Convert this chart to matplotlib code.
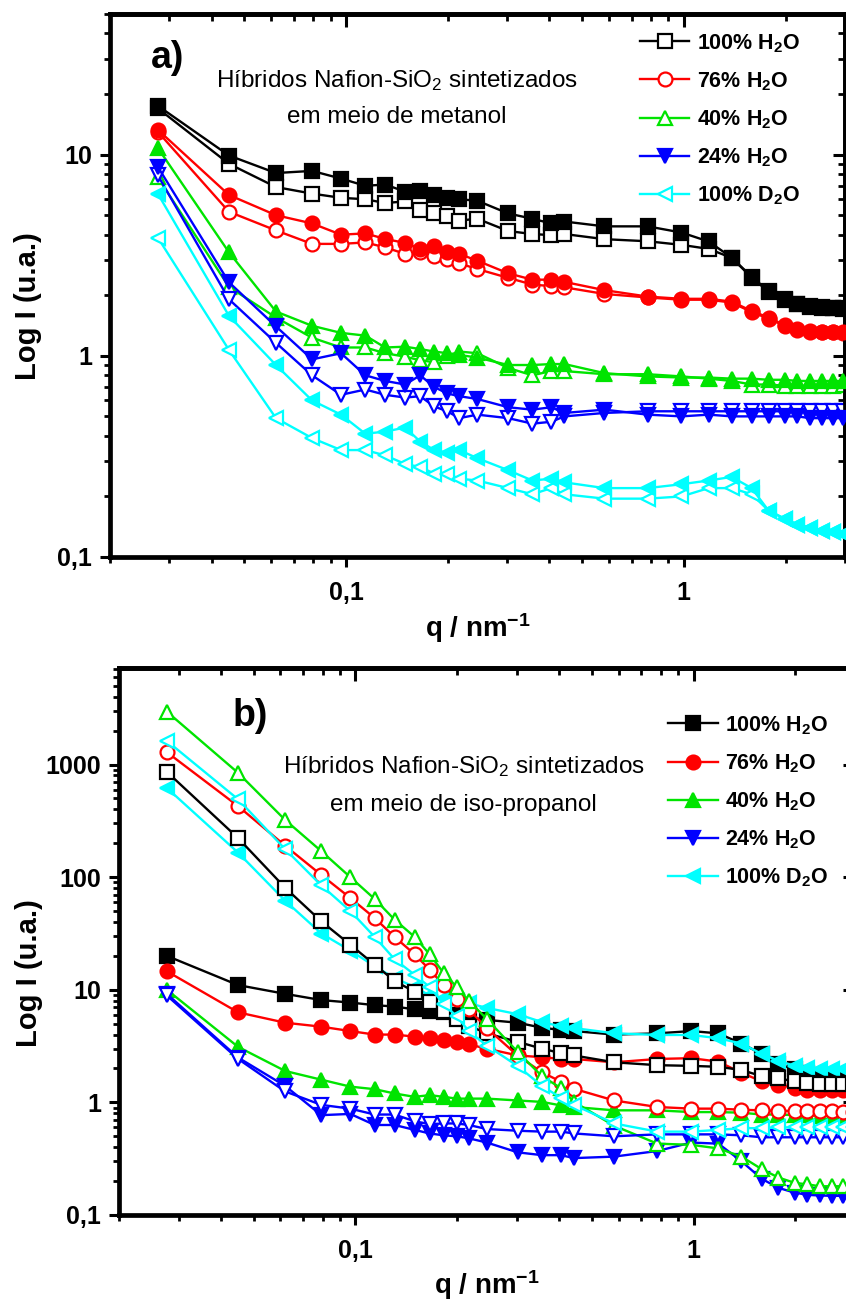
"""SAXS curves of Nafion-SiO2 hybrids made in methanol (a) and iso-propanol (b).

Filled and open symbols are the two samples of each water/D2O content.
"""

import matplotlib
matplotlib.use("Agg")
import matplotlib.pyplot as plt
from matplotlib.lines import Line2D
from matplotlib.ticker import FixedLocator, FuncFormatter, LogLocator, NullFormatter

plt.rcParams["font.family"] = ["Liberation Sans", "DejaVu Sans"]
plt.rcParams["mathtext.fontset"] = "custom"
plt.rcParams["mathtext.rm"] = "Liberation Sans"
plt.rcParams["mathtext.bf"] = "Liberation Sans:bold"
plt.rcParams["mathtext.it"] = "Liberation Sans:italic"

# q (nm^-1) where the symbols sit
q = [0.0277, 0.045, 0.062, 0.0793, 0.0966, 0.114, 0.1305, 0.1496, 0.1657, 0.1823,
     0.1993, 0.2163, 0.2446, 0.302, 0.356, 0.405, 0.443, 0.582, 0.781, 0.984,
     1.184, 1.385, 1.588, 1.782, 1.989, 2.17, 2.36, 2.56, 2.76, 2.95]

# a) methanol
a_h100_fill = [17.5, 9.9, 8.1, 8.3, 7.6, 7.0, 7.1, 6.55, 6.6, 6.3, 6.1, 6.0, 5.9, 5.1, 4.8,
               4.55, 4.65, 4.4, 4.4, 4.1, 3.7, 3.08, 2.47, 2.1, 1.91, 1.81, 1.76, 1.74, 1.73, 1.72]
a_h100_open = [17.0, 9.0, 6.9, 6.4, 6.1, 6.0, 5.75, 5.85, 5.3, 5.1, 4.97, 4.7, 4.8, 4.17, 4.03,
               3.98, 4.03, 3.8, 3.71, 3.56, 3.4, 3.07, 2.45, 2.08, 1.9, 1.8, 1.75, 1.73, 1.72, 1.71]
a_h76_fill = [13.3, 6.3, 5.0, 4.55, 4.0, 4.06, 3.81, 3.64, 3.4, 3.5, 3.27, 3.21, 2.97, 2.57, 2.39,
              2.39, 2.33, 2.12, 1.97, 1.92, 1.92, 1.86, 1.67, 1.55, 1.42, 1.36, 1.33, 1.32, 1.32, 1.31]
a_h76_open = [13.0, 5.2, 4.2, 3.6, 3.6, 3.66, 3.46, 3.21, 3.27, 3.15, 3.03, 2.88, 2.7, 2.44, 2.26,
              2.22, 2.19, 2.03, 1.95, 1.9, 1.9, 1.84, 1.65, 1.53, 1.41, 1.35, 1.32, 1.31, 1.31, 1.3]
a_h40_fill = [10.8, 3.27, 1.66, 1.41, 1.3, 1.26, 1.1, 1.11, 1.08, 1.05, 1.03, 1.01, 0.98, 0.9, 0.9,
              0.91, 0.91, 0.82, 0.79, 0.78, 0.78, 0.77, 0.77, 0.76, 0.76, 0.75, 0.75, 0.75, 0.75, 0.75]
a_h40_open = [7.7, 2.2, 1.55, 1.23, 1.1, 1.1, 1.03, 0.99, 0.95, 0.93, 1.0, 1.05, 1.03, 0.87, 0.8,
              0.84, 0.84, 0.81, 0.81, 0.79, 0.77, 0.75, 0.72, 0.72, 0.71, 0.71, 0.71, 0.71, 0.71, 0.72]
a_h24_fill = [8.7, 2.32, 1.4, 0.96, 1.03, 0.8, 0.75, 0.72, 0.8, 0.7, 0.65, 0.63, 0.61, 0.555, 0.54,
              0.555, 0.52, 0.54, 0.51, 0.5, 0.51, 0.5, 0.5, 0.5, 0.5, 0.5, 0.49, 0.49, 0.49, 0.49]
a_h24_open = [7.9, 1.91, 1.16, 0.8, 0.64, 0.68, 0.64, 0.62, 0.63, 0.56, 0.53, 0.49, 0.51, 0.49, 0.46,
              0.47, 0.5, 0.52, 0.53, 0.53, 0.53, 0.53, 0.53, 0.53, 0.53, 0.53, 0.53, 0.53, 0.53, 0.53]
a_d100_fill = [6.4, 1.58, 0.9, 0.6, 0.51, 0.41, 0.42, 0.44, 0.375, 0.34, 0.33, 0.34, 0.31, 0.27, 0.24,
               0.245, 0.235, 0.22, 0.22, 0.23, 0.24, 0.25, 0.22, 0.17, 0.155, 0.145, 0.14, 0.135, 0.133, 0.13]
a_d100_open = [3.87, 1.07, 0.49, 0.39, 0.34, 0.34, 0.32, 0.29, 0.28, 0.26, 0.26, 0.245, 0.24, 0.22, 0.205,
               0.22, 0.205, 0.195, 0.195, 0.2, 0.22, 0.22, 0.205, 0.17, 0.155, 0.145, 0.14, 0.135, 0.133, 0.13]

# b) iso-propanol
b_h100_fill = [20.0, 11.0, 9.2, 8.1, 7.7, 7.3, 7.1, 6.7, 6.5, 6.3, 6.0, 5.7, 5.4, 5.1, 4.6,
               4.4, 4.3, 4.0, 4.1, 4.3, 4.1, 3.33, 2.7, 2.18, 1.97, 1.83, 1.75, 1.71, 1.68, 1.68]
b_h100_open = [862, 222, 80.5, 40.5, 25.1, 16.7, 12.0, 9.6, 7.8, 6.5, 5.5, 4.8, 4.1, 3.45, 3.0,
               2.74, 2.61, 2.27, 2.14, 2.11, 2.07, 1.94, 1.71, 1.63, 1.54, 1.49, 1.47, 1.47, 1.47, 1.46]
b_h76_fill = [14.6, 6.3, 5.1, 4.7, 4.3, 4.0, 4.0, 3.84, 3.71, 3.6, 3.45, 3.27, 3.0, 2.61, 2.52,
              2.43, 2.43, 2.27, 2.43, 2.47, 2.3, 1.83, 1.54, 1.44, 1.34, 1.29, 1.29, 1.28, 1.28, 1.28]
b_h76_open = [1288, 427, 190, 104.5, 65.3, 43.4, 29.5, 20.7, 15.1, 11.0, 8.3, 6.7, 4.57, 2.6, 1.85,
              1.53, 1.32, 1.04, 0.91, 0.88, 0.88, 0.86, 0.85, 0.84, 0.84, 0.83, 0.83, 0.83, 0.82, 0.82]
b_h40_fill = [10.0, 3.11, 1.9, 1.59, 1.38, 1.31, 1.2, 1.12, 1.16, 1.12, 1.08, 1.08, 1.08, 1.04, 1.01,
              0.94, 0.91, 0.85, 0.85, 0.82, 0.82, 0.81, 0.78, 0.78, 0.77, 0.77, 0.76, 0.76, 0.76, 0.76]
b_h40_open = [2950, 843, 322, 170, 100, 64, 42, 29.5, 20.7, 14.1, 10.6, 8.0, 5.5, 2.8, 1.71,
              1.34, 1.01, 0.62, 0.43, 0.42, 0.39, 0.33, 0.256, 0.215, 0.193, 0.187, 0.18, 0.18, 0.18, 0.18]
b_h24_fill = [9.2, 2.5, 1.4, 0.77, 0.79, 0.63, 0.63, 0.57, 0.53, 0.51, 0.5, 0.48, 0.44, 0.36, 0.34,
              0.34, 0.32, 0.33, 0.37, 0.44, 0.43, 0.3, 0.21, 0.174, 0.158, 0.151, 0.149, 0.148, 0.148, 0.148]
b_h24_open = [8.9, 2.43, 1.25, 0.95, 0.88, 0.78, 0.78, 0.68, 0.64, 0.65, 0.65, 0.63, 0.58, 0.56, 0.55,
              0.55, 0.53, 0.5, 0.52, 0.52, 0.52, 0.51, 0.49, 0.49, 0.49, 0.49, 0.49, 0.49, 0.49, 0.49]
b_d100_fill = [620, 165, 61.7, 31.6, 22.3, 16.2, 12.7, 10.6, 8.9, 8.4, 8.0, 7.6, 6.9, 6.07, 5.17,
               4.73, 4.57, 4.11, 3.97, 3.97, 3.71, 3.33, 2.7, 2.34, 2.11, 2.0, 1.97, 1.97, 1.97, 1.97]
b_d100_open = [1622, 491, 177, 84.5, 50, 29.5, 18.7, 13.6, 10.6, 7.5, 5.8, 4.3, 3.2, 2.1, 1.4,
               1.1, 0.95, 0.65, 0.55, 0.55, 0.57, 0.59, 0.59, 0.6, 0.6, 0.6, 0.6, 0.6, 0.6, 0.6]

labels = ["100% H$_\\mathbf{2}$O", "76% H$_\\mathbf{2}$O", "40% H$_\\mathbf{2}$O",
          "24% H$_\\mathbf{2}$O", "100% D$_\\mathbf{2}$O"]

COLORS = ["#000000", "#ff0000", "#00e400", "#0000ff", "#00ffff"]
MARKERS = ["s", "o", "^", "v", "<"]
MS = 10
LW = 1.7
SPINE = 3.4


def comma(v, _pos):
    return f"{v:g}".replace(".", ",")


def series_style(i, filled):
    return dict(color=COLORS[i], marker=MARKERS[i], ms=MS, lw=LW, mew=1.6,
                mfc=COLORS[i] if filled else "white", mec=COLORS[i])


def style_axes(ax, ymax, yticks):
    ax.set_xscale("log")
    ax.set_yscale("log")
    ax.set_xlim(0.02, 3.0)
    ax.set_ylim(0.1, ymax)
    for s in ax.spines.values():
        s.set_linewidth(SPINE)

    ax.xaxis.set_major_locator(FixedLocator([0.1, 1]))
    ax.yaxis.set_major_locator(FixedLocator(yticks))
    for axis in (ax.xaxis, ax.yaxis):
        axis.set_minor_locator(LogLocator(base=10, subs=range(2, 10), numticks=30))
        axis.set_minor_formatter(NullFormatter())
        axis.set_major_formatter(FuncFormatter(comma))
    ax.tick_params(which="major", direction="out", length=7, width=2.2, pad=6,
                   labelsize=18)
    ax.tick_params(which="minor", direction="out", length=4, width=2.0)
    for lab in ax.get_xticklabels() + ax.get_yticklabels():
        lab.set_fontweight("bold")
    ax.tick_params(axis="x", which="major", pad=10)

    # mirrored ticks, pointing in, as in the original software
    top = ax.secondary_xaxis("top")
    right = ax.secondary_yaxis("right")
    top.xaxis.set_major_locator(FixedLocator([0.1, 1]))
    right.yaxis.set_major_locator(FixedLocator(yticks))
    for sec, axis in ((top, top.xaxis), (right, right.yaxis)):
        axis.set_minor_locator(LogLocator(base=10, subs=range(2, 10), numticks=30))
        sec.tick_params(which="major", direction="in", length=9, width=2.2,
                        labelbottom=False, labeltop=False, labelleft=False, labelright=False)
        sec.tick_params(which="minor", direction="in", length=5, width=2.0)
        for s in sec.spines.values():
            s.set_linewidth(SPINE)

    ax.set_xlabel("q / nm$^{\\mathbf{-1}}$", fontsize=20, fontweight="bold")
    ax.set_ylabel("Log I (u.a.)", fontsize=21, fontweight="bold")


def draw_panel(ax, fills, opens, fill_on_top, legend_filled, legend_xy):
    order = [(opens, False), (fills, True)] if fill_on_top else [(fills, True), (opens, False)]
    for data, filled in order:
        for i, ys in enumerate(data):
            ax.plot(q, ys, **series_style(i, filled), zorder=3 if filled == fill_on_top else 2)

    handles = [Line2D([], [], **series_style(i, legend_filled[i])) for i in range(5)]
    ax.legend(handles, labels, loc="upper left", bbox_to_anchor=legend_xy,
              frameon=False, borderpad=0, borderaxespad=0, handlelength=2.3,
              handletextpad=0.35, labelspacing=0.72,
              prop={"weight": "bold", "size": 15.5})


def main():
    fig = plt.figure(figsize=(8.46, 13.03), dpi=100)
    W, H = 846, 1303
    ax_a = fig.add_axes([110 / W, 1 - 557 / H, 735 / W, 543 / H])
    ax_b = fig.add_axes([119 / W, 1 - 1215 / H, 736 / W, 547 / H])

    draw_panel(ax_a,
               [a_h100_fill, a_h76_fill, a_h40_fill, a_h24_fill, a_d100_fill],
               [a_h100_open, a_h76_open, a_h40_open, a_h24_open, a_d100_open],
               fill_on_top=True,
               legend_filled=[False, False, False, True, False],
               legend_xy=(0.721, 0.967))
    draw_panel(ax_b,
               [b_h100_fill, b_h76_fill, b_h40_fill, b_h24_fill, b_d100_fill],
               [b_h100_open, b_h76_open, b_h40_open, b_h24_open, b_d100_open],
               fill_on_top=False,
               legend_filled=[True] * 5,
               legend_xy=(0.746, 0.916))

    style_axes(ax_a, 50, [0.1, 1, 10])
    style_axes(ax_b, 7200, [0.1, 1, 10, 100, 1000])

    ax_a.yaxis.set_label_coords(-0.092, 0.462)
    ax_b.yaxis.set_label_coords(-0.103, 0.442)
    ax_a.xaxis.set_label_coords(0.5, -0.099)
    ax_b.xaxis.set_label_coords(0.5, -0.097)

    ax_a.text(0.056, 0.919, "a)", transform=ax_a.transAxes, fontsize=27,
              fontweight="bold", va="center", ha="left")
    ax_a.text(0.390, 0.878, "Híbridos Nafion-SiO$_\\mathrm{2}$ sintetizados",
              transform=ax_a.transAxes, fontsize=17.5, ha="center", va="center")
    ax_a.text(0.390, 0.810, "em meio de metanol",
              transform=ax_a.transAxes, fontsize=17.5, ha="center", va="center")

    ax_b.text(0.154, 0.912, "b)", transform=ax_b.transAxes, fontsize=27,
              fontweight="bold", va="center", ha="left")
    ax_b.text(0.468, 0.819, "Híbridos Nafion-SiO$_\\mathrm{2}$ sintetizados",
              transform=ax_b.transAxes, fontsize=17.5, ha="center", va="center")
    ax_b.text(0.468, 0.750, "em meio de iso-propanol",
              transform=ax_b.transAxes, fontsize=17.5, ha="center", va="center")

    fig.savefig("out.png", dpi=100)
    plt.close(fig)


if __name__ == "__main__":
    main()
